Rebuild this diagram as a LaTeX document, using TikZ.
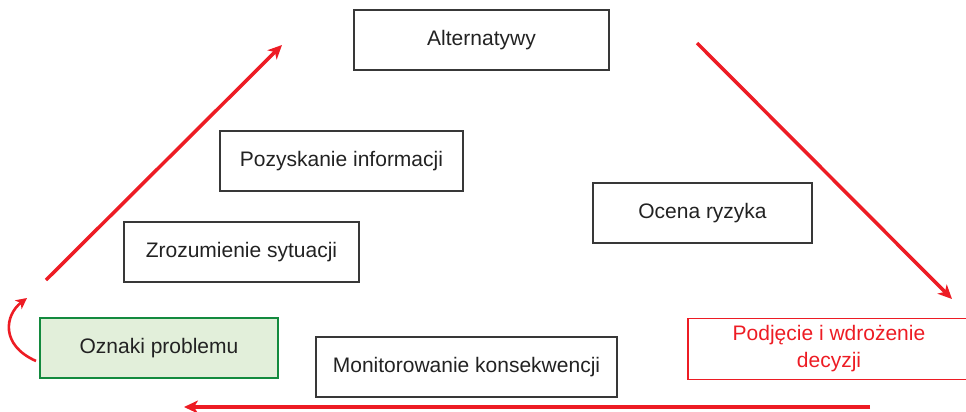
\documentclass[tikz,border=0pt]{standalone}
\usepackage{fontspec}
\setmainfont{Liberation Sans}
\usetikzlibrary{arrows.meta}
\definecolor{rd}{HTML}{ED1C24}
\definecolor{gb}{HTML}{138A3E}
\definecolor{gf}{HTML}{E2EFDA}
\definecolor{tx}{HTML}{222222}
\begin{document}
\begin{tikzpicture}[x=1pt,y=-1pt,
  box/.style={draw=tx!90, line width=1.6pt, inner sep=0pt, align=center, text=tx, font=\fontsize{21}{27}\selectfont},
  redarrow/.style={draw=rd, line width=3.5pt, -{Stealth[length=14pt,width=13pt,inset=4pt]}}]
\useasboundingbox (0,0) rectangle (966,412);
\node[box, minimum width=255pt, minimum height=60pt] (alt) at (481.5,40) {Alternatywy};
\node[box, minimum width=243pt, minimum height=60pt] (poz) at (341.5,161) {Pozyskanie informacji};
\node[box, minimum width=235pt, minimum height=60pt] (zro) at (241.5,252) {Zrozumienie sytuacji};
\node[box, minimum width=219pt, minimum height=60pt] (oce) at (702.5,213) {Ocena ryzyka};
\node[box, draw=gb, fill=gf, line width=2.4pt, minimum width=238pt, minimum height=60pt] (ozn) at (159,348) {Oznaki problemu};
\node[box, minimum width=301pt, minimum height=60pt] (mon) at (466.5,367) {Monitorowanie konsekwencji};
\node[box, draw=rd, text=rd, line width=1.6pt, minimum width=282pt, minimum height=61pt] (pod) at (829,349) {Podjęcie i wdrożenie\\decyzji};
\coordinate (l1) at (46,280);
\coordinate (l2) at (282,45);
\coordinate (r1) at (697,43);
\coordinate (r2) at (952,299);
\coordinate (b1) at (870,407);
\coordinate (b2) at (184,407);
\coordinate (c1) at (36,361);
\coordinate (c2) at (27,298);
\draw[redarrow] (l1) -- (l2);
\draw[redarrow] (r1) -- (r2);
\draw[redarrow] (b1) -- (b2);
\draw[draw=rd, line width=2.6pt, -{Stealth[length=11pt,width=11pt,inset=3pt]}] (c1) .. controls (0,345) and (5,315) .. (c2);
\end{tikzpicture}
\end{document}
